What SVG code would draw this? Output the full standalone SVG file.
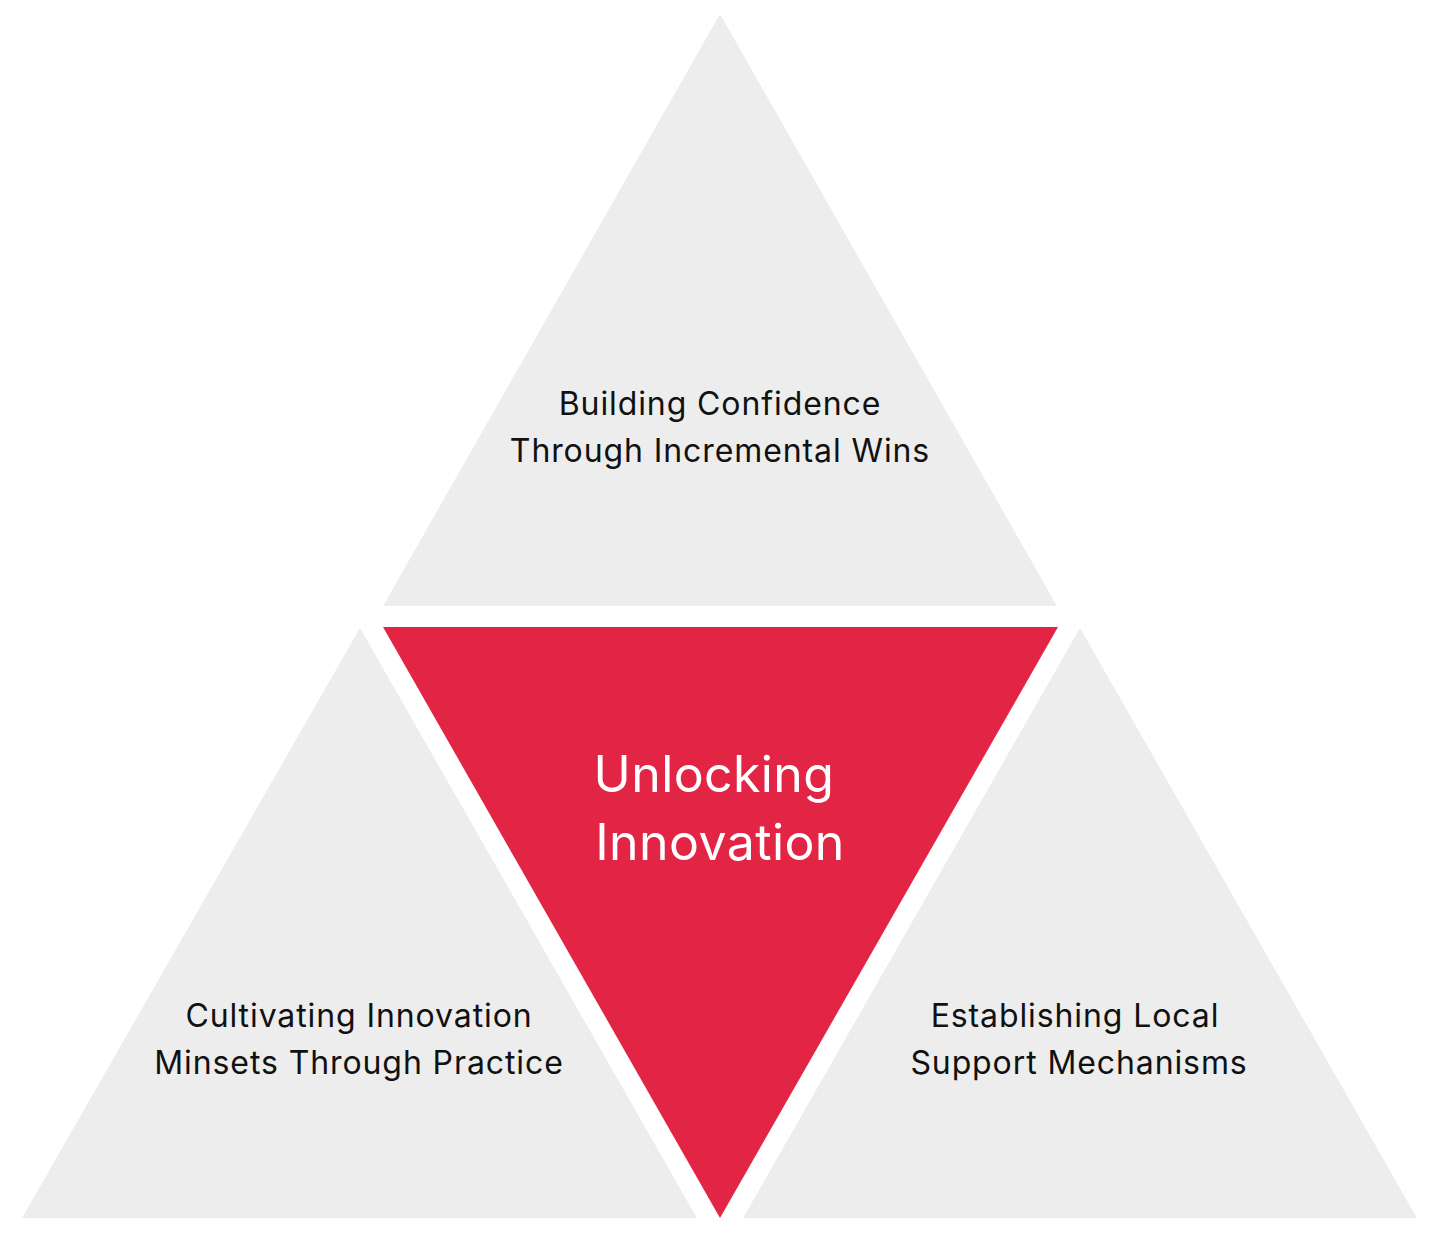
<svg xmlns="http://www.w3.org/2000/svg" width="1439" height="1242" viewBox="0 0 1439 1242">
<style>
.tri{fill:#EDEDED}
.core{fill:#E32545}
.lbl{font-family:Inter,"Liberation Sans",sans-serif;font-size:32px;letter-spacing:0.9px;fill:#111111;text-anchor:middle}
.big{font-family:Inter,"Liberation Sans",sans-serif;font-size:50px;letter-spacing:0.4px;fill:#FFFFFF;text-anchor:middle}
</style>
<rect width="1439" height="1242" fill="#FFFFFF"/>
<g id="top">
<polygon class="tri" points="720,14 383,606 1057,606"/>
<text class="lbl" x="720" y="415">Building Confidence</text>
<text class="lbl" x="720" y="462">Through Incremental Wins</text>
</g>
<g id="center">
<polygon class="core" points="383,627 1058,627 720,1218"/>
<text class="big" x="714" y="792">Unlocking</text>
<text class="big" x="720" y="860">Innovation</text>
</g>
<g id="left">
<polygon class="tri" points="360,628 22,1218 697,1218"/>
<text class="lbl" x="359" y="1027">Cultivating Innovation</text>
<text class="lbl" x="359" y="1074">Minsets Through Practice</text>
</g>
<g id="right">
<polygon class="tri" points="1080,628 743,1218 1417,1218"/>
<text class="lbl" x="1075" y="1027">Establishing Local</text>
<text class="lbl" x="1079" y="1074">Support Mechanisms</text>
</g>
<g id="connectors"></g>
</svg>
